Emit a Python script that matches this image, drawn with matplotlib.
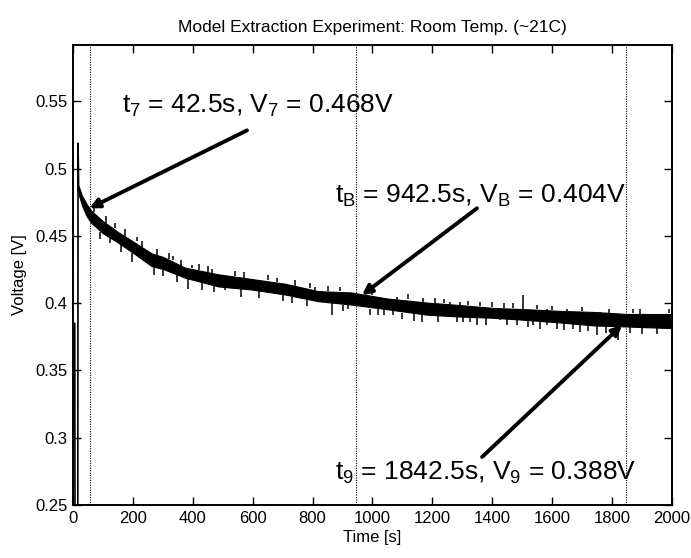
import numpy as np
import matplotlib
matplotlib.use('Agg')
import matplotlib.pyplot as plt

plt.rcParams['font.family'] = ['Liberation Sans', 'DejaVu Sans']
plt.rcParams['mathtext.fontset'] = 'custom'
plt.rcParams['mathtext.rm'] = 'Liberation Sans'
plt.rcParams['mathtext.it'] = 'Liberation Sans'

# start of record (load step)
t_start = [0, 6, 7, 16, 17, 19]
v_start = [0.385, 0.385, 0.20, 0.20, 0.519, 0.484]

# envelope of the noisy decay
t_env = [19, 30, 45, 60, 80, 100, 150, 200, 263, 300, 374, 485, 597, 708,
         819, 930, 1050, 1181, 1300, 1403, 1520, 1626, 1740, 1849, 2000]
v_up = [0.487, 0.480, 0.474, 0.469, 0.465, 0.461, 0.453, 0.446, 0.437, 0.4345,
        0.4265, 0.4215, 0.418, 0.4145, 0.409, 0.408, 0.4035, 0.4005, 0.3985,
        0.3965, 0.3955, 0.3943, 0.3935, 0.392, 0.392]
v_lo = [0.481, 0.473, 0.465, 0.460, 0.456, 0.452, 0.4452, 0.4376, 0.4275, 0.4255,
        0.419, 0.4125, 0.4102, 0.4065, 0.4015, 0.399, 0.3955, 0.3915, 0.39,
        0.3892, 0.3875, 0.3857, 0.3835, 0.3827, 0.3815]

# noise spikes: time, base, tip
spike_t = [124, 196, 246, 346, 385, 507, 524, 763, 808, 864, 919,
           992, 1019, 1070, 1164, 1281, 1303, 1326, 1426, 1481, 1537, 1582,
           1615, 1671, 1693, 1749, 1821,
           213, 335, 396, 463, 808, 1081, 1170, 1259, 1292, 1359, 1398,
           1504, 1582, 1648, 1760, 1893, 1927, 1960,
           70, 110, 140, 175, 230, 280, 320, 360, 420, 450, 540, 570, 650,
           680, 740, 790, 850, 890, 1000, 1120, 1210, 1240, 1320, 1440, 1470,
           1550, 1600, 1700, 1790, 1870, 1990,
           90, 160, 270, 300, 430, 470, 560, 620, 700, 730, 780, 900, 1040,
           1100, 1140, 1220, 1350, 1380, 1450, 1520, 1560, 1640, 1720, 1780,
           1860, 1900, 1950]
spike_a = [0.451, 0.437, 0.433, 0.424, 0.421, 0.412, 0.411, 0.408, 0.406, 0.402, 0.401,
           0.396, 0.396, 0.395, 0.392, 0.390, 0.390, 0.390, 0.389, 0.388, 0.388, 0.387,
           0.386, 0.385, 0.385, 0.384, 0.383,
           0.446, 0.435, 0.426, 0.422, 0.410, 0.402, 0.400, 0.398, 0.398, 0.398, 0.397,
           0.396, 0.394, 0.394, 0.393, 0.392, 0.391, 0.391,
           0.468, 0.460, 0.456, 0.450, 0.442, 0.436, 0.433, 0.428, 0.425, 0.423,
           0.420, 0.419, 0.417, 0.416, 0.413, 0.411, 0.409, 0.409, 0.406, 0.403,
           0.4005, 0.400, 0.3985, 0.3967, 0.3964, 0.3955, 0.395, 0.394, 0.393,
           0.3926, 0.3926,
           0.453, 0.443, 0.4265, 0.425, 0.415, 0.413, 0.4105, 0.409, 0.4065,
           0.405, 0.403, 0.399, 0.3955, 0.393, 0.392, 0.3905, 0.389, 0.389,
           0.388, 0.387, 0.386, 0.385, 0.3835, 0.383, 0.382, 0.3817, 0.3813]
spike_b = [0.4446, 0.4307, 0.4307, 0.4158, 0.4109, 0.4097, 0.411, 0.4084, 0.4084, 0.3911, 0.396,
           0.3911, 0.3911, 0.3911, 0.3862, 0.3862, 0.3862, 0.3862, 0.3874, 0.3837, 0.3837, 0.3837,
           0.3812, 0.3812, 0.3787, 0.3763, 0.3726,
           0.4493, 0.432, 0.4283, 0.4258, 0.4121, 0.4047, 0.4042, 0.401, 0.401, 0.401, 0.401,
           0.406, 0.396, 0.396, 0.3936, 0.396, 0.3923, 0.3923,
           0.472, 0.465, 0.460, 0.455, 0.446, 0.440, 0.437, 0.432, 0.429, 0.428,
           0.424, 0.423, 0.421, 0.419, 0.417, 0.415, 0.413, 0.412, 0.410, 0.407,
           0.404, 0.403, 0.402, 0.400, 0.400, 0.399, 0.398, 0.397, 0.396,
           0.396, 0.396,
           0.448, 0.438, 0.421, 0.420, 0.410, 0.408, 0.405, 0.404, 0.402,
           0.400, 0.398, 0.394, 0.391, 0.388, 0.387, 0.386, 0.384, 0.384,
           0.384, 0.382, 0.381, 0.380, 0.379, 0.378, 0.378, 0.377, 0.377]

# marker lines and annotations
mark_t = [58, 946, 1846]
labels = [r'$\mathregular{t_7}$ = 42.5s, $\mathregular{V_7}$ = 0.468V',
          r'$\mathregular{t_B}$ = 942.5s, $\mathregular{V_B}$ = 0.404V',
          r'$\mathregular{t_9}$ = 1842.5s, $\mathregular{V_9}$ = 0.388V']
label_xy = [(164, 0.5418), (875, 0.475), (875, 0.2685)]
arrow_tail = [(581, 0.5285), (1349, 0.4706), (1366, 0.2857)]
arrow_tip = [(55, 0.4706), (965, 0.406), (1833, 0.3837)]

yticks = [0.25, 0.3, 0.35, 0.4, 0.45, 0.5, 0.55]
ytick_labels = ['0.25', '0.3', '0.35', '0.4', '0.45', '0.5', '0.55']
xticks = [0, 200, 400, 600, 800, 1000, 1200, 1400, 1600, 1800, 2000]

fig = plt.figure(figsize=(6.91, 5.58), dpi=100)
ax = fig.add_axes([0.1056, 0.095, 0.8669, 0.8244])

ax.plot(t_start, v_start, color='k', lw=1.2)
ax.fill_between(t_env, v_lo, v_up, color='k', lw=0.8, edgecolor='k')
ax.vlines(spike_t, spike_a, spike_b, color='k', lw=1.1)

for t in mark_t:
    ax.axvline(t, color='k', lw=0.8, linestyle=(0, (1, 1.2)))

for lab, xy, tail, tip in zip(labels, label_xy, arrow_tail, arrow_tip):
    ax.text(xy[0], xy[1], lab, fontsize=19, ha='left', va='baseline')
    ax.annotate('', xy=tip, xytext=tail,
                arrowprops=dict(arrowstyle='-|>', lw=2.8, color='k',
                                mutation_scale=14, shrinkA=0, shrinkB=0))

ax.set_xlim(0, 2000)
ax.set_ylim(0.25, 0.592)
ax.set_xticks(xticks)
ax.set_yticks(yticks)
ax.set_yticklabels(ytick_labels)
ax.tick_params(direction='in', top=True, right=True, length=6, width=1,
               labelsize=12, pad=4)
for s in ax.spines.values():
    s.set_linewidth(1.4)

ax.set_xlabel('Time [s]', fontsize=12, labelpad=3)
ax.set_ylabel('Voltage [V]', fontsize=12, labelpad=6)
ax.set_title('Model Extraction Experiment: Room Temp. (~21C)', fontsize=12.5, pad=9)

fig.savefig('out.png', dpi=100)
